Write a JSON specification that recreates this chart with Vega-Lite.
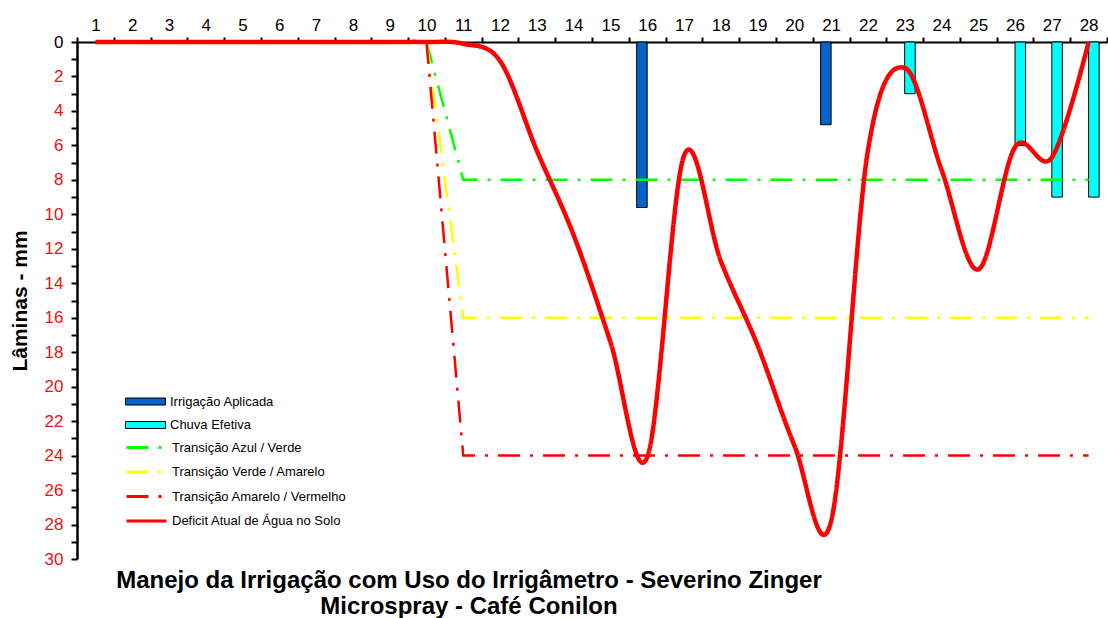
{
  "$schema": "https://vega.github.io/schema/vega-lite/v6.json",
  "width": 1030,
  "height": 517,
  "autosize": {"type": "none"},
  "padding": {"left": 77, "top": 42, "right": 1, "bottom": 59},
  "background": "white",
  "config": {"view": {"stroke": null}, "font": "Liberation Sans"},
  "title": {
    "text": ["Manejo da Irrigação com Uso do Irrigâmetro - Severino Zinger", "Microspray - Café Conilon"],
    "orient": "bottom",
    "anchor": "middle",
    "dx": -123,
    "offset": 2,
    "font": "Liberation Sans",
    "fontSize": 24,
    "fontWeight": "bold",
    "color": "black",
    "lineHeight": 26
  },
  "datasets": {
    "barras": [
      {"dia": 16, "tipo": "Irrigação Aplicada", "valor": 9.6},
      {"dia": 21, "tipo": "Irrigação Aplicada", "valor": 4.8},
      {"dia": 23, "tipo": "Chuva Efetiva", "valor": 3.0},
      {"dia": 26, "tipo": "Chuva Efetiva", "valor": 6.0},
      {"dia": 27, "tipo": "Chuva Efetiva", "valor": 9.0},
      {"dia": 28, "tipo": "Chuva Efetiva", "valor": 9.0}
    ],
    "linhas": [
      {"dia": 10, "serie": "Transição Azul / Verde", "valor": 0},
      {"dia": 11, "serie": "Transição Azul / Verde", "valor": 8},
      {"dia": 28, "serie": "Transição Azul / Verde", "valor": 8},
      {"dia": 10, "serie": "Transição Verde / Amarelo", "valor": 0},
      {"dia": 11, "serie": "Transição Verde / Amarelo", "valor": 16},
      {"dia": 28, "serie": "Transição Verde / Amarelo", "valor": 16},
      {"dia": 10, "serie": "Transição Amarelo / Vermelho", "valor": 0},
      {"dia": 11, "serie": "Transição Amarelo / Vermelho", "valor": 24},
      {"dia": 28, "serie": "Transição Amarelo / Vermelho", "valor": 24},
      {"dia": 1, "serie": "Deficit Atual de Água no Solo", "valor": 0},
      {"dia": 2, "serie": "Deficit Atual de Água no Solo", "valor": 0},
      {"dia": 3, "serie": "Deficit Atual de Água no Solo", "valor": 0},
      {"dia": 4, "serie": "Deficit Atual de Água no Solo", "valor": 0},
      {"dia": 5, "serie": "Deficit Atual de Água no Solo", "valor": 0},
      {"dia": 6, "serie": "Deficit Atual de Água no Solo", "valor": 0},
      {"dia": 7, "serie": "Deficit Atual de Água no Solo", "valor": 0},
      {"dia": 8, "serie": "Deficit Atual de Água no Solo", "valor": 0},
      {"dia": 9, "serie": "Deficit Atual de Água no Solo", "valor": 0},
      {"dia": 10, "serie": "Deficit Atual de Água no Solo", "valor": 0},
      {"dia": 11, "serie": "Deficit Atual de Água no Solo", "valor": 0.1},
      {"dia": 12, "serie": "Deficit Atual de Água no Solo", "valor": 1.1},
      {"dia": 13, "serie": "Deficit Atual de Água no Solo", "valor": 6.3},
      {"dia": 14, "serie": "Deficit Atual de Água no Solo", "valor": 11.2},
      {"dia": 15, "serie": "Deficit Atual de Água no Solo", "valor": 17.4},
      {"dia": 16, "serie": "Deficit Atual de Água no Solo", "valor": 24.1},
      {"dia": 17, "serie": "Deficit Atual de Água no Solo", "valor": 6.6},
      {"dia": 18, "serie": "Deficit Atual de Água no Solo", "valor": 12.7},
      {"dia": 19, "serie": "Deficit Atual de Água no Solo", "valor": 17.6},
      {"dia": 20, "serie": "Deficit Atual de Água no Solo", "valor": 23.4},
      {"dia": 21, "serie": "Deficit Atual de Água no Solo", "valor": 27.8},
      {"dia": 22, "serie": "Deficit Atual de Água no Solo", "valor": 6.3},
      {"dia": 23, "serie": "Deficit Atual de Água no Solo", "valor": 1.5},
      {"dia": 24, "serie": "Deficit Atual de Água no Solo", "valor": 7.4},
      {"dia": 25, "serie": "Deficit Atual de Água no Solo", "valor": 13.2},
      {"dia": 26, "serie": "Deficit Atual de Água no Solo", "valor": 6.1},
      {"dia": 27, "serie": "Deficit Atual de Água no Solo", "valor": 6.7},
      {"dia": 28, "serie": "Deficit Atual de Água no Solo", "valor": 0}
    ]
  },
  "encoding": {
    "x": {
      "field": "dia",
      "type": "ordinal",
      "scale": {"type": "band", "domain": [1,2,3,4,5,6,7,8,9,10,11,12,13,14,15,16,17,18,19,20,21,22,23,24,25,26,27,28], "paddingInner": 0, "paddingOuter": 0},
      "axis": {
        "orient": "top",
        "title": null,
        "labelAngle": 0,
        "tickBand": "extent",
        "domainColor": "black",
        "domainWidth": 2,
        "tickColor": "black",
        "tickWidth": 2,
        "tickSize": 5,
        "labelFontSize": 17,
        "labelColor": "black",
        "labelPadding": 3,
        "grid": false
      }
    },
    "y": {
      "field": "valor",
      "type": "quantitative",
      "scale": {"domain": [0, 30], "reverse": true, "nice": false},
      "axis": {
        "title": "Lâminas - mm",
        "titleFontSize": 21,
        "titleFontWeight": "bold",
        "titleColor": "black",
        "titlePadding": 14,
        "values": [0,1,2,3,4,5,6,7,8,9,10,11,12,13,14,15,16,17,18,19,20,21,22,23,24,25,26,27,28,29,30],
        "labelExpr": "datum.value % 2 == 0 ? datum.label : ''",
        "labelColor": {"condition": {"test": "datum.value == 0", "value": "black"}, "value": "#EE1111"},
        "labelFontSize": 17,
        "labelPadding": 8,
        "labelOverlap": false,
        "labelFlush": false,
        "labelBound": false,
        "tickSize": 6,
        "tickWidth": 2,
        "tickColor": "black",
        "domainColor": "black",
        "domainWidth": 2.5,
        "grid": false
      }
    }
  },
  "layer": [
    {
      "data": {"name": "barras"},
      "mark": {"type": "bar", "stroke": "black", "strokeWidth": 1},
      "encoding": {
        "xOffset": {
          "field": "tipo",
          "type": "nominal",
          "scale": {"domain": ["Irrigação Aplicada", "Chuva Efetiva"], "paddingInner": 0, "paddingOuter": 0.75}
        },
        "fill": {
          "field": "tipo",
          "type": "nominal",
          "scale": {"domain": ["Irrigação Aplicada", "Chuva Efetiva"], "range": ["#0563C9", "#00FFFF"]},
          "legend": {
            "title": null,
            "orient": "none",
            "legendX": 58,
            "legendY": 349,
            "symbolType": "M-2,-0.35H2V0.35H-2Z",
            "symbolSize": 400,
            "symbolStrokeColor": "black",
            "symbolStrokeWidth": 1,
            "labelFontSize": 13,
            "labelColor": "black",
            "labelLimit": 400,
            "labelOffset": 14,
            "rowPadding": 5.5,
            "padding": 0
          }
        }
      }
    },
    {
      "data": {"name": "linhas"},
      "transform": [{"filter": "datum.serie != 'Deficit Atual de Água no Solo'"}],
      "mark": {"type": "line", "interpolate": "linear", "strokeWidth": 2.5},
      "encoding": {
        "color": {
          "field": "serie",
          "type": "nominal",
          "scale": {"domain": ["Transição Azul / Verde", "Transição Verde / Amarelo", "Transição Amarelo / Vermelho", "Deficit Atual de Água no Solo"], "range": ["#00FF00", "#FFFF00", "#FF0000", "#FF0000"]},
          "legend": {
            "title": null,
            "orient": "none",
            "legendX": 58,
            "legendY": 394,
            "symbolType": "M-2,0H2",
            "symbolSize": 400,
            "symbolStrokeWidth": 3,
            "labelFontSize": 13,
            "labelColor": "black",
            "labelLimit": 400,
            "labelOffset": 14,
            "rowPadding": 5.5,
            "padding": 0
          }
        },
        "strokeDash": {
          "field": "serie",
          "type": "nominal",
          "scale": {"domain": ["Transição Azul / Verde", "Transição Verde / Amarelo", "Transição Amarelo / Vermelho", "Deficit Atual de Água no Solo"], "range": [[22, 10, 3, 10], [22, 10, 3, 10], [22, 10, 3, 10], [1, 0]]},
          "legend": {"title": null}
        }
      }
    },
    {
      "data": {"name": "linhas"},
      "transform": [{"filter": "datum.serie == 'Deficit Atual de Água no Solo'"}],
      "mark": {"type": "line", "interpolate": "cardinal", "strokeWidth": 4.5},
      "encoding": {
        "color": {"field": "serie", "type": "nominal", "scale": {"domain": ["Transição Azul / Verde", "Transição Verde / Amarelo", "Transição Amarelo / Vermelho", "Deficit Atual de Água no Solo"], "range": ["#00FF00", "#FFFF00", "#FF0000", "#FF0000"]}},
        "strokeDash": {"field": "serie", "type": "nominal", "scale": {"domain": ["Transição Azul / Verde", "Transição Verde / Amarelo", "Transição Amarelo / Vermelho", "Deficit Atual de Água no Solo"], "range": [[22, 10, 3, 10], [22, 10, 3, 10], [22, 10, 3, 10], [1, 0]]}}
      }
    }
  ]
}
